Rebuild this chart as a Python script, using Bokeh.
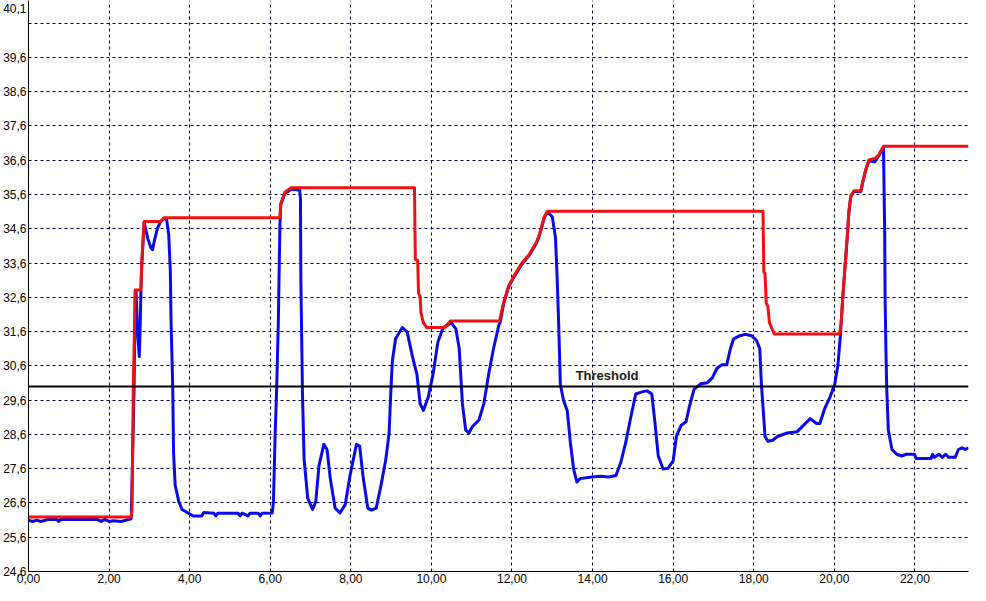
from bokeh.plotting import figure
from bokeh.models import Range1d, FixedTicker, CustomJSTickFormatter, Span, Label
from bokeh.embed import file_html
from bokeh.resources import INLINE

# ---------------- data ----------------
x_ticks = [0, 2, 4, 6, 8, 10, 12, 14, 16, 18, 20, 22]
x_tick_labels = ["0,00", "2,00", "4,00", "6,00", "8,00", "10,00", "12,00",
                 "14,00", "16,00", "18,00", "20,00", "22,00"]
x_grid = [2, 4, 6, 8, 10, 12, 14, 16, 18, 20, 22]

y_ticks = [24.6, 25.6, 26.6, 27.6, 28.6, 29.6, 30.6, 31.6, 32.6, 33.6,
           34.6, 35.6, 36.6, 37.6, 38.6, 39.6, 41.03]
y_tick_labels = ["24,6", "25,6", "26,6", "27,6", "28,6", "29,6", "30,6", "31,6",
                 "32,6", "33,6", "34,6", "35,6", "36,6", "37,6", "38,6", "39,6", "40,1"]
y_grid = [25.6, 26.6, 27.6, 28.6, 29.6, 30.6, 31.6, 32.6, 33.6, 34.6,
          35.6, 36.6, 37.6, 38.6, 39.6, 40.6]

x_min, x_max = 0.0, 23.33
y_min, y_max = 24.6, 41.26

threshold = 30.0
threshold_label = "Threshold"
threshold_label_x = 13.58

red_x = [0.00, 2.55, 2.57, 2.60, 2.65, 2.79, 2.81, 2.87, 3.28, 3.36,
         6.24, 6.26, 6.36, 6.52, 9.58, 9.60, 9.66, 9.68, 9.72, 9.74,
         9.80, 9.88, 10.33, 10.47, 11.69, 11.79, 11.91, 12.03, 12.23, 12.43,
         12.60, 12.68, 12.80, 12.88, 18.23, 18.25, 18.28, 18.31, 18.35, 18.39,
         18.51, 20.13, 20.17, 20.21, 20.27, 20.33, 20.36, 20.41, 20.49, 20.66,
         20.70, 20.78, 20.86, 21.02, 21.10, 21.22, 23.33]
red_y = [26.19, 26.19, 26.40, 29.96, 32.81, 32.81, 33.57, 34.81, 34.81, 34.92,
         34.92, 35.33, 35.66, 35.80, 35.80, 33.71, 33.67, 32.72, 32.62, 32.15,
         31.86, 31.72, 31.72, 31.91, 31.91, 32.43, 32.91, 33.19, 33.57, 33.86,
         34.19, 34.43, 34.95, 35.11, 35.11, 33.34, 33.29, 32.43, 32.34, 31.86,
         31.53, 31.53, 31.86, 32.62, 33.57, 34.52, 35.09, 35.57, 35.71, 35.71,
         35.95, 36.33, 36.61, 36.66, 36.75, 37.01, 37.01]

blue_x = [0.00, 0.10, 0.20, 0.30, 0.50, 0.70, 0.75, 0.80, 1.70, 1.80,
          1.90, 2.00, 2.10, 2.30, 2.50, 2.55, 2.62, 2.65, 2.67, 2.71,
          2.75, 2.77, 2.79, 2.81, 2.87, 2.96, 3.04, 3.08, 3.12, 3.20,
          3.28, 3.36, 3.43, 3.48, 3.52, 3.54, 3.56, 3.58, 3.60, 3.64,
          3.73, 3.81, 3.93, 4.09, 4.30, 4.35, 4.60, 4.65, 4.70, 5.20,
          5.25, 5.30, 5.45, 5.50, 5.70, 5.75, 5.80, 6.05, 6.08, 6.12,
          6.16, 6.20, 6.24, 6.26, 6.36, 6.52, 6.73, 6.75, 6.76, 6.80,
          6.84, 6.93, 7.05, 7.13, 7.21, 7.33, 7.41, 7.49, 7.61, 7.73,
          7.86, 7.98, 8.14, 8.22, 8.30, 8.42, 8.51, 8.63, 8.75, 8.87,
          8.95, 8.99, 9.03, 9.11, 9.28, 9.40, 9.52, 9.64, 9.72, 9.80,
          9.92, 10.04, 10.16, 10.29, 10.41, 10.49, 10.61, 10.69, 10.77, 10.85,
          10.93, 11.02, 11.18, 11.30, 11.42, 11.54, 11.67, 11.71, 11.79, 11.91,
          12.03, 12.23, 12.43, 12.60, 12.68, 12.80, 12.88, 13.00, 13.08, 13.12,
          13.16, 13.20, 13.28, 13.37, 13.45, 13.53, 13.61, 13.69, 13.97, 14.20,
          14.40, 14.58, 14.70, 14.82, 14.95, 15.07, 15.23, 15.35, 15.47, 15.55,
          15.63, 15.75, 15.87, 16.00, 16.08, 16.20, 16.32, 16.40, 16.52, 16.69,
          16.85, 16.97, 17.09, 17.21, 17.33, 17.42, 17.50, 17.66, 17.78, 17.95,
          18.07, 18.15, 18.19, 18.23, 18.28, 18.35, 18.47, 18.59, 18.83, 19.08,
          19.24, 19.40, 19.56, 19.64, 19.76, 19.89, 20.01, 20.09, 20.15, 20.21,
          20.27, 20.33, 20.36, 20.41, 20.49, 20.66, 20.70, 20.78, 20.86, 21.00,
          21.10, 21.22, 21.23, 21.25, 21.26, 21.28, 21.30, 21.34, 21.43, 21.55,
          21.67, 21.79, 21.99, 22.03, 22.40, 22.44, 22.48, 22.60, 22.68, 22.76,
          22.84, 23.00, 23.08, 23.17, 23.25, 23.33]
blue_y = [26.10, 26.06, 26.10, 26.06, 26.12, 26.12, 26.06, 26.12, 26.12, 26.06,
          26.12, 26.06, 26.08, 26.06, 26.12, 26.14, 29.90, 32.78, 32.78, 31.50,
          30.87, 31.70, 32.78, 33.55, 34.79, 34.32, 34.04, 33.99, 34.23, 34.61,
          34.81, 34.90, 34.86, 34.43, 33.38, 31.77, 30.90, 29.97, 28.07, 27.12,
          26.64, 26.41, 26.33, 26.22, 26.22, 26.32, 26.30, 26.22, 26.30, 26.30,
          26.22, 26.30, 26.22, 26.30, 26.30, 26.22, 26.30, 26.31, 26.64, 28.54,
          29.97, 31.86, 34.71, 35.30, 35.62, 35.75, 35.73, 35.47, 33.10, 29.78,
          27.88, 26.74, 26.41, 26.64, 27.69, 28.31, 28.16, 27.31, 26.45, 26.31,
          26.55, 27.40, 28.31, 28.26, 27.40, 26.45, 26.39, 26.45, 27.12, 27.88,
          28.64, 29.78, 30.73, 31.39, 31.72, 31.58, 30.92, 30.35, 29.49, 29.30,
          29.68, 30.35, 31.29, 31.72, 31.79, 31.86, 31.67, 31.10, 29.49, 28.73,
          28.64, 28.83, 29.02, 29.49, 30.35, 31.10, 31.77, 31.89, 32.40, 32.88,
          33.16, 33.54, 33.83, 34.16, 34.40, 34.92, 35.09, 34.95, 34.33, 33.19,
          31.77, 30.06, 29.59, 29.30, 28.35, 27.59, 27.21, 27.31, 27.36, 27.38,
          27.36, 27.40, 27.78, 28.35, 29.11, 29.78, 29.84, 29.87, 29.78, 28.92,
          27.97, 27.59, 27.61, 27.83, 28.54, 28.87, 28.97, 29.40, 29.92, 30.08,
          30.11, 30.25, 30.53, 30.63, 30.63, 31.10, 31.39, 31.48, 31.52, 31.48,
          31.34, 31.10, 30.06, 29.40, 28.54, 28.40, 28.43, 28.54, 28.64, 28.68,
          28.87, 29.06, 28.92, 28.92, 29.35, 29.68, 30.06, 30.63, 31.48, 32.60,
          33.55, 34.50, 35.07, 35.55, 35.69, 35.69, 35.93, 36.31, 36.59, 36.55,
          36.72, 36.98, 36.12, 34.52, 32.62, 31.10, 29.97, 28.73, 28.16, 28.02,
          27.97, 28.02, 28.02, 27.90, 27.90, 28.02, 27.93, 28.02, 27.93, 28.02,
          27.93, 27.93, 28.16, 28.21, 28.16, 28.21]

# ---------------- figure ----------------
p = figure(width=970, height=585,
           x_range=Range1d(x_min, x_max), y_range=Range1d(y_min, y_max),
           output_backend="svg", toolbar_location=None,
           min_border_left=0, min_border_right=2,
           min_border_top=0, min_border_bottom=0)
p.outline_line_color = None
p.background_fill_color = "white"
p.border_fill_color = "white"

fmt_code = """
for (let i = 0; i < tvals.length; i++) {
  if (Math.abs(tvals[i] - tick) < 1e-6) { return tlabels[i]; }
}
return '';
"""
p.xaxis.ticker = FixedTicker(ticks=x_ticks)
p.xaxis.formatter = CustomJSTickFormatter(args=dict(tvals=x_ticks, tlabels=x_tick_labels), code=fmt_code)
p.yaxis.ticker = FixedTicker(ticks=y_ticks)
p.yaxis.formatter = CustomJSTickFormatter(args=dict(tvals=y_ticks, tlabels=y_tick_labels), code=fmt_code)

for ax in (p.xaxis, p.yaxis):
    ax.major_tick_line_color = None
    ax.minor_tick_line_color = None
    ax.major_tick_in = 0
    ax.major_tick_out = 0
    ax.axis_line_color = "black"
    ax.axis_line_width = 1
    ax.major_label_text_font = "Liberation Sans"
    ax.major_label_text_font_size = "12px"
    ax.major_label_text_color = "black"
    ax.major_label_standoff = 2

p.xgrid.ticker = FixedTicker(ticks=x_grid)
p.ygrid.ticker = FixedTicker(ticks=y_grid)
for g in (p.xgrid, p.ygrid):
    g.grid_line_color = "#000040"
    g.grid_line_dash = "3 3"
    g.grid_line_width = 1

p.line(blue_x, blue_y, line_color="#0a0ae6", line_width=3, line_join="round")
p.line(red_x, red_y, line_color="#ee1111", line_width=3, line_join="round")

p.add_layout(Span(location=threshold, dimension="width", line_color="black", line_width=2))
p.add_layout(Label(x=threshold_label_x, y=threshold, text=threshold_label,
                   y_offset=3, text_baseline="bottom", text_align="left",
                   text_font="Liberation Sans", text_font_size="13px",
                   text_font_style="bold", text_color="#202020"))

open("out.html", "w").write(file_html(p, INLINE))
